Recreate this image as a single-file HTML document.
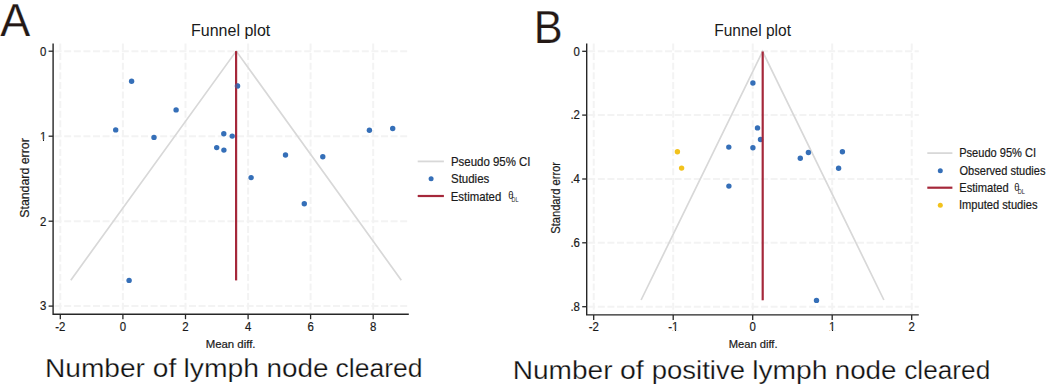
<!DOCTYPE html>
<html><head><meta charset="utf-8"><style>html,body{margin:0;padding:0;background:#fff;width:1049px;height:389px;overflow:hidden}svg{display:block} text.s{stroke:#1a1a1a;stroke-width:0.2px} text.t{stroke:#ffffff;stroke-width:0.25px}</style></head><body>
<svg width="1049" height="389" viewBox="0 0 1049 389" font-family='"Liberation Sans", sans-serif'>
<rect width="1049" height="389" fill="#ffffff"/>
<g>
<line x1="54.6" y1="51.2" x2="408.8" y2="51.2" stroke="#f3f3f3" stroke-width="2" stroke-dasharray="7 2.6"/>
<line x1="54.6" y1="136.2" x2="408.8" y2="136.2" stroke="#f3f3f3" stroke-width="2" stroke-dasharray="7 2.6"/>
<line x1="54.6" y1="221.2" x2="408.8" y2="221.2" stroke="#f3f3f3" stroke-width="2" stroke-dasharray="7 2.6"/>
<line x1="54.6" y1="306.1" x2="408.8" y2="306.1" stroke="#f3f3f3" stroke-width="2" stroke-dasharray="7 2.6"/>
<line x1="60.3" y1="43.5" x2="60.3" y2="313.2" stroke="#f3f3f3" stroke-width="2" stroke-dasharray="7 2.6"/>
<line x1="122.9" y1="43.5" x2="122.9" y2="313.2" stroke="#f3f3f3" stroke-width="2" stroke-dasharray="7 2.6"/>
<line x1="185.5" y1="43.5" x2="185.5" y2="313.2" stroke="#f3f3f3" stroke-width="2" stroke-dasharray="7 2.6"/>
<line x1="248.1" y1="43.5" x2="248.1" y2="313.2" stroke="#f3f3f3" stroke-width="2" stroke-dasharray="7 2.6"/>
<line x1="310.6" y1="43.5" x2="310.6" y2="313.2" stroke="#f3f3f3" stroke-width="2" stroke-dasharray="7 2.6"/>
<line x1="373.2" y1="43.5" x2="373.2" y2="313.2" stroke="#f3f3f3" stroke-width="2" stroke-dasharray="7 2.6"/>
<polyline points="70.8,280.2 236.2,51.1 401.3,280.2" fill="none" stroke="#d8d8d8" stroke-width="1.7"/>
<circle cx="131.6" cy="81.3" r="2.7" fill="#356fb8"/>
<circle cx="176.1" cy="109.9" r="2.7" fill="#356fb8"/>
<circle cx="115.7" cy="129.9" r="2.7" fill="#356fb8"/>
<circle cx="154.0" cy="137.4" r="2.7" fill="#356fb8"/>
<circle cx="223.8" cy="133.8" r="2.7" fill="#356fb8"/>
<circle cx="232.2" cy="136.1" r="2.7" fill="#356fb8"/>
<circle cx="216.7" cy="147.6" r="2.7" fill="#356fb8"/>
<circle cx="223.9" cy="150.1" r="2.7" fill="#356fb8"/>
<circle cx="237.5" cy="85.9" r="2.7" fill="#356fb8"/>
<circle cx="285.5" cy="155.0" r="2.7" fill="#356fb8"/>
<circle cx="322.8" cy="156.8" r="2.7" fill="#356fb8"/>
<circle cx="251.1" cy="177.6" r="2.7" fill="#356fb8"/>
<circle cx="304.3" cy="203.8" r="2.7" fill="#356fb8"/>
<circle cx="369.4" cy="130.2" r="2.7" fill="#356fb8"/>
<circle cx="392.7" cy="128.5" r="2.7" fill="#356fb8"/>
<circle cx="129.1" cy="280.4" r="2.7" fill="#356fb8"/>
<line x1="236.1" y1="51.1" x2="236.1" y2="280.4" stroke="#a5283a" stroke-width="2.2"/>
<circle cx="237.5" cy="85.9" r="2.7" fill="#356fb8" fill-opacity="0.55"/>
<path d="M53.1 43.5 V314.2 H408.8" fill="none" stroke="#262626" stroke-width="1.4"/>
<line x1="48.6" y1="51.2" x2="53.1" y2="51.2" stroke="#262626" stroke-width="1.3"/>
<line x1="48.6" y1="136.2" x2="53.1" y2="136.2" stroke="#262626" stroke-width="1.3"/>
<line x1="48.6" y1="221.2" x2="53.1" y2="221.2" stroke="#262626" stroke-width="1.3"/>
<line x1="48.6" y1="306.1" x2="53.1" y2="306.1" stroke="#262626" stroke-width="1.3"/>
<line x1="60.3" y1="314.2" x2="60.3" y2="319.2" stroke="#262626" stroke-width="1.3"/>
<line x1="122.9" y1="314.2" x2="122.9" y2="319.2" stroke="#262626" stroke-width="1.3"/>
<line x1="185.5" y1="314.2" x2="185.5" y2="319.2" stroke="#262626" stroke-width="1.3"/>
<line x1="248.1" y1="314.2" x2="248.1" y2="319.2" stroke="#262626" stroke-width="1.3"/>
<line x1="310.6" y1="314.2" x2="310.6" y2="319.2" stroke="#262626" stroke-width="1.3"/>
<line x1="373.2" y1="314.2" x2="373.2" y2="319.2" stroke="#262626" stroke-width="1.3"/>
<line x1="417.7" y1="161.4" x2="443.9" y2="161.4" stroke="#d8d8d8" stroke-width="1.8"/>
<circle cx="431.1" cy="178.7" r="2.5" fill="#356fb8"/>
<line x1="417.7" y1="196.0" x2="443.9" y2="196.0" stroke="#a5283a" stroke-width="2.2"/>
</g>
<g>
<line x1="588.2" y1="51.3" x2="918.8" y2="51.3" stroke="#f3f3f3" stroke-width="2" stroke-dasharray="7 2.6"/>
<line x1="588.2" y1="115.1" x2="918.8" y2="115.1" stroke="#f3f3f3" stroke-width="2" stroke-dasharray="7 2.6"/>
<line x1="588.2" y1="179.0" x2="918.8" y2="179.0" stroke="#f3f3f3" stroke-width="2" stroke-dasharray="7 2.6"/>
<line x1="588.2" y1="242.8" x2="918.8" y2="242.8" stroke="#f3f3f3" stroke-width="2" stroke-dasharray="7 2.6"/>
<line x1="588.2" y1="306.7" x2="918.8" y2="306.7" stroke="#f3f3f3" stroke-width="2" stroke-dasharray="7 2.6"/>
<line x1="593.7" y1="43.5" x2="593.7" y2="313.9" stroke="#f3f3f3" stroke-width="2" stroke-dasharray="7 2.6"/>
<line x1="673.2" y1="43.5" x2="673.2" y2="313.9" stroke="#f3f3f3" stroke-width="2" stroke-dasharray="7 2.6"/>
<line x1="752.7" y1="43.5" x2="752.7" y2="313.9" stroke="#f3f3f3" stroke-width="2" stroke-dasharray="7 2.6"/>
<line x1="832.2" y1="43.5" x2="832.2" y2="313.9" stroke="#f3f3f3" stroke-width="2" stroke-dasharray="7 2.6"/>
<line x1="911.7" y1="43.5" x2="911.7" y2="313.9" stroke="#f3f3f3" stroke-width="2" stroke-dasharray="7 2.6"/>
<polyline points="641.1,300.0 762.6,51.5 883.9,300.0" fill="none" stroke="#d8d8d8" stroke-width="1.7"/>
<circle cx="752.9" cy="83.0" r="2.7" fill="#356fb8"/>
<circle cx="757.5" cy="127.9" r="2.7" fill="#356fb8"/>
<circle cx="760.5" cy="139.5" r="2.7" fill="#356fb8"/>
<circle cx="728.8" cy="147.1" r="2.7" fill="#356fb8"/>
<circle cx="752.9" cy="147.8" r="2.7" fill="#356fb8"/>
<circle cx="728.9" cy="186.1" r="2.7" fill="#356fb8"/>
<circle cx="800.3" cy="158.2" r="2.7" fill="#356fb8"/>
<circle cx="808.4" cy="152.5" r="2.7" fill="#356fb8"/>
<circle cx="842.4" cy="151.7" r="2.7" fill="#356fb8"/>
<circle cx="838.6" cy="168.2" r="2.7" fill="#356fb8"/>
<circle cx="816.5" cy="300.4" r="2.7" fill="#356fb8"/>
<circle cx="677.4" cy="151.8" r="2.7" fill="#f2c21c"/>
<circle cx="681.6" cy="168.1" r="2.7" fill="#f2c21c"/>
<line x1="762.7" y1="51.5" x2="762.7" y2="300.3" stroke="#a5283a" stroke-width="2.2"/>
<path d="M586.7 43.5 V314.9 H918.8" fill="none" stroke="#262626" stroke-width="1.4"/>
<line x1="582.2" y1="51.3" x2="586.7" y2="51.3" stroke="#262626" stroke-width="1.3"/>
<line x1="582.2" y1="115.1" x2="586.7" y2="115.1" stroke="#262626" stroke-width="1.3"/>
<line x1="582.2" y1="179.0" x2="586.7" y2="179.0" stroke="#262626" stroke-width="1.3"/>
<line x1="582.2" y1="242.8" x2="586.7" y2="242.8" stroke="#262626" stroke-width="1.3"/>
<line x1="582.2" y1="306.7" x2="586.7" y2="306.7" stroke="#262626" stroke-width="1.3"/>
<line x1="593.7" y1="314.9" x2="593.7" y2="319.9" stroke="#262626" stroke-width="1.3"/>
<line x1="673.2" y1="314.9" x2="673.2" y2="319.9" stroke="#262626" stroke-width="1.3"/>
<line x1="752.7" y1="314.9" x2="752.7" y2="319.9" stroke="#262626" stroke-width="1.3"/>
<line x1="832.2" y1="314.9" x2="832.2" y2="319.9" stroke="#262626" stroke-width="1.3"/>
<line x1="911.7" y1="314.9" x2="911.7" y2="319.9" stroke="#262626" stroke-width="1.3"/>
<line x1="927.3" y1="153.1" x2="952.4" y2="153.1" stroke="#d8d8d8" stroke-width="1.8"/>
<circle cx="940.3" cy="170.7" r="2.5" fill="#356fb8"/>
<line x1="927.3" y1="187.7" x2="952.4" y2="187.7" stroke="#a5283a" stroke-width="2.2"/>
<circle cx="940.3" cy="205.2" r="2.5" fill="#f2c21c"/>
</g>
<text id="tA" x="190.97" y="36.00" font-size="16.9" fill="#1a1a1a" textLength="79.29" lengthAdjust="spacingAndGlyphs">Funnel plot</text>
<text id="xA" class="s" x="205.68" y="347.50" font-size="11.5" fill="#1a1a1a" textLength="49.86" lengthAdjust="spacingAndGlyphs">Mean diff.</text>
<text id="yA" class="s" transform="translate(29.30,217.77) rotate(-90)" font-size="12.2" fill="#1a1a1a" textLength="79.53" lengthAdjust="spacingAndGlyphs">Standard error</text>
<text id="lA1" class="s" x="450.97" y="165.80" font-size="12.4" fill="#1a1a1a" textLength="79.55" lengthAdjust="spacingAndGlyphs">Pseudo 95% CI</text>
<text id="lA2" class="s" x="450.97" y="182.80" font-size="12.4" fill="#1a1a1a" textLength="38.31" lengthAdjust="spacingAndGlyphs">Studies</text>
<text id="lA3" class="s" x="450.70" y="200.60" font-size="12.4" fill="#1a1a1a" textLength="50.59" lengthAdjust="spacingAndGlyphs">Estimated</text>
<text id="bigA" class="t" x="0.25" y="36.00" font-size="46.5" fill="#231815" textLength="29.99" lengthAdjust="spacingAndGlyphs">A</text>
<text id="capA0" class="t" x="44.98" y="377.30" font-size="26.5" fill="#111111" textLength="100.03" lengthAdjust="spacingAndGlyphs">Number</text>
<text id="capA1" class="t" x="152.78" y="377.30" font-size="26.5" fill="#111111" textLength="23.47" lengthAdjust="spacingAndGlyphs">of</text>
<text id="capA2" class="t" x="183.46" y="377.30" font-size="26.5" fill="#111111" textLength="75.59" lengthAdjust="spacingAndGlyphs">lymph</text>
<text id="capA3" class="t" x="266.47" y="377.30" font-size="26.5" fill="#111111" textLength="62.06" lengthAdjust="spacingAndGlyphs">node</text>
<text id="capA4" class="t" x="335.48" y="377.30" font-size="26.5" fill="#111111" textLength="87.03" lengthAdjust="spacingAndGlyphs">cleared</text>
<text id="tB" x="714.21" y="36.00" font-size="16.6" fill="#1a1a1a" textLength="76.79" lengthAdjust="spacingAndGlyphs">Funnel plot</text>
<text id="xB" class="s" x="728.69" y="348.20" font-size="11.5" fill="#1a1a1a" textLength="48.87" lengthAdjust="spacingAndGlyphs">Mean diff.</text>
<text id="yB" class="s" transform="translate(560.00,233.80) rotate(-90)" font-size="11.9" fill="#1a1a1a" textLength="71.86" lengthAdjust="spacingAndGlyphs">Standard error</text>
<text id="lB1" class="s" x="959.22" y="156.80" font-size="12.2" fill="#1a1a1a" textLength="76.86" lengthAdjust="spacingAndGlyphs">Pseudo 95% CI</text>
<text id="lB2" class="s" x="959.49" y="174.70" font-size="12.2" fill="#1a1a1a" textLength="85.97" lengthAdjust="spacingAndGlyphs">Observed studies</text>
<text id="lB3" class="s" x="959.22" y="192.10" font-size="12.2" fill="#1a1a1a" textLength="49.47" lengthAdjust="spacingAndGlyphs">Estimated</text>
<text id="lB4" class="s" x="958.97" y="209.20" font-size="12.2" fill="#1a1a1a" textLength="78.53" lengthAdjust="spacingAndGlyphs">Imputed studies</text>
<text id="bigB" class="t" x="533.67" y="43.10" font-size="46.4" fill="#231815" textLength="28.94" lengthAdjust="spacingAndGlyphs">B</text>
<text id="capB0" class="t" x="512.74" y="378.90" font-size="26.5" fill="#111111" textLength="99.76" lengthAdjust="spacingAndGlyphs">Number</text>
<text id="capB1" class="t" x="620.06" y="378.90" font-size="26.5" fill="#111111" textLength="23.72" lengthAdjust="spacingAndGlyphs">of</text>
<text id="capB2" class="t" x="651.73" y="378.90" font-size="26.5" fill="#111111" textLength="93.29" lengthAdjust="spacingAndGlyphs">positive</text>
<text id="capB3" class="t" x="752.20" y="378.90" font-size="26.5" fill="#111111" textLength="75.34" lengthAdjust="spacingAndGlyphs">lymph</text>
<text id="capB4" class="t" x="834.72" y="378.90" font-size="26.5" fill="#111111" textLength="61.81" lengthAdjust="spacingAndGlyphs">node</text>
<text id="capB5" class="t" x="904.23" y="378.90" font-size="26.5" fill="#111111" textLength="86.03" lengthAdjust="spacingAndGlyphs">cleared</text>
<text id="ytA0" class="s" transform="translate(46.30,55.50) scale(0.92,1)" font-size="12.4" fill="#1a1a1a" text-anchor="end">0</text>
<text id="ytA1" class="s" transform="translate(46.30,140.50) scale(0.92,1)" font-size="12.4" fill="#1a1a1a" text-anchor="end">1</text>
<text id="ytA2" class="s" transform="translate(46.30,225.50) scale(0.92,1)" font-size="12.4" fill="#1a1a1a" text-anchor="end">2</text>
<text id="ytA3" class="s" transform="translate(46.30,310.40) scale(0.92,1)" font-size="12.4" fill="#1a1a1a" text-anchor="end">3</text>
<text id="xtA0" class="s" transform="translate(60.30,331.00) scale(0.92,1)" font-size="12.4" fill="#1a1a1a" text-anchor="middle">-2</text>
<text id="xtA1" class="s" transform="translate(122.90,331.00) scale(0.92,1)" font-size="12.4" fill="#1a1a1a" text-anchor="middle">0</text>
<text id="xtA2" class="s" transform="translate(185.50,331.00) scale(0.92,1)" font-size="12.4" fill="#1a1a1a" text-anchor="middle">2</text>
<text id="xtA3" class="s" transform="translate(248.10,331.00) scale(0.92,1)" font-size="12.4" fill="#1a1a1a" text-anchor="middle">4</text>
<text id="xtA4" class="s" transform="translate(310.60,331.00) scale(0.92,1)" font-size="12.4" fill="#1a1a1a" text-anchor="middle">6</text>
<text id="xtA5" class="s" transform="translate(373.20,331.00) scale(0.92,1)" font-size="12.4" fill="#1a1a1a" text-anchor="middle">8</text>
<text id="ytB0" class="s" transform="translate(579.90,55.60) scale(0.92,1)" font-size="12.4" fill="#1a1a1a" text-anchor="end">0</text>
<text id="ytB1" class="s" transform="translate(579.90,119.40) scale(0.92,1)" font-size="12.4" fill="#1a1a1a" text-anchor="end">.2</text>
<text id="ytB2" class="s" transform="translate(579.90,183.30) scale(0.92,1)" font-size="12.4" fill="#1a1a1a" text-anchor="end">.4</text>
<text id="ytB3" class="s" transform="translate(579.90,247.10) scale(0.92,1)" font-size="12.4" fill="#1a1a1a" text-anchor="end">.6</text>
<text id="ytB4" class="s" transform="translate(579.90,311.00) scale(0.92,1)" font-size="12.4" fill="#1a1a1a" text-anchor="end">.8</text>
<text id="xtB0" class="s" transform="translate(593.70,331.30) scale(0.92,1)" font-size="12.4" fill="#1a1a1a" text-anchor="middle">-2</text>
<text id="xtB1" class="s" transform="translate(673.20,331.30) scale(0.92,1)" font-size="12.4" fill="#1a1a1a" text-anchor="middle">-1</text>
<text id="xtB2" class="s" transform="translate(752.70,331.30) scale(0.92,1)" font-size="12.4" fill="#1a1a1a" text-anchor="middle">0</text>
<text id="xtB3" class="s" transform="translate(832.20,331.30) scale(0.92,1)" font-size="12.4" fill="#1a1a1a" text-anchor="middle">1</text>
<text id="xtB4" class="s" transform="translate(911.70,331.30) scale(0.92,1)" font-size="12.4" fill="#1a1a1a" text-anchor="middle">2</text>
<text id="thA" x="508.3" y="198.9" font-size="10" fill="#1a1a1a" textLength="5.2" lengthAdjust="spacingAndGlyphs">θ</text>
<text id="dlA" x="511.6" y="202.2" font-size="7.6" fill="#1a1a1a" textLength="7.0" lengthAdjust="spacingAndGlyphs">DL</text>
<text id="thB" x="1014.3" y="190.9" font-size="10" fill="#1a1a1a" textLength="5.2" lengthAdjust="spacingAndGlyphs">θ</text>
<text id="dlB" x="1017.8" y="193.7" font-size="7" fill="#1a1a1a" textLength="7.2" lengthAdjust="spacingAndGlyphs">DL</text>
<rect x="40.3" y="139.4" width="2.65" height="1.80" fill="#ffffff"/>
<rect x="44.05" y="139.4" width="2.65" height="1.80" fill="#ffffff"/>
<rect x="672.5" y="330.05" width="2.45" height="2.15" fill="#ffffff"/>
<rect x="676.05" y="330.05" width="2.65" height="2.15" fill="#ffffff"/>
<rect x="829.5" y="330.05" width="2.45" height="2.15" fill="#ffffff"/>
<rect x="833.05" y="330.05" width="2.65" height="2.15" fill="#ffffff"/>
</svg>
</body></html>
